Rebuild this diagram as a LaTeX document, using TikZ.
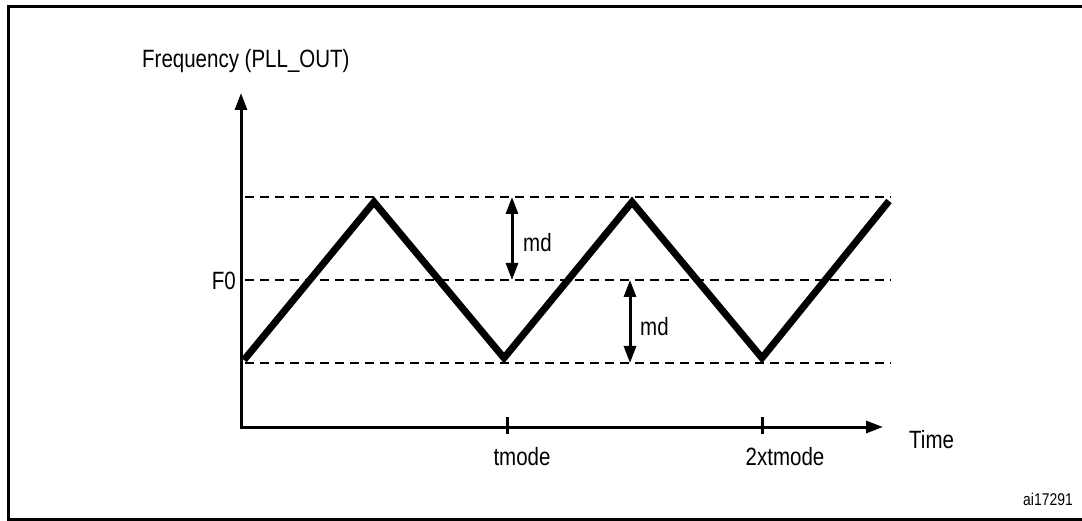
\documentclass[tikz,border=0pt]{standalone}
\usepackage{fontspec}
\setmainfont{Liberation Sans}[FakeStretch=0.82]
\usetikzlibrary{arrows.meta}
\begin{document}
\begin{tikzpicture}[x=1pt,y=-1pt,
  lbl/.style={inner sep=0pt, font=\fontsize{25}{30}\selectfont},
  small/.style={inner sep=0pt, font=\fontsize{17}{20}\selectfont},
  axis/.style={line width=3pt, line join=miter, {Triangle[length=17pt,width=12pt]}-{Triangle[length=17pt,width=12pt]}},
  guide/.style={line width=2.5pt, dash pattern=on 9pt off 6pt},
  wave/.style={line width=7pt, line join=miter},
  dim/.style={line width=3pt, {Triangle[length=17pt,width=12pt]}-{Triangle[length=17pt,width=12pt]}},
  tick/.style={line width=3pt},
  frame/.style={line width=3pt}]
\useasboundingbox (0,0) rectangle (1082,521);
% frame (right side lies outside the picture)
\coordinate (fr1) at (1090,7);
\coordinate (fr2) at (8,7);
\coordinate (fr3) at (8,519);
\coordinate (fr4) at (1090,519);
\begin{scope}
\clip (0,0) rectangle (1082,521);
\draw[frame] (fr1) -- (fr2) -- (fr3) -- (fr4);
\end{scope}
% axes
\coordinate (O) at (241,427);
\coordinate (ytip) at (241,93);
\coordinate (xtip) at (883,427);
\draw[axis] (ytip) -- (O) -- (xtip);
% guide lines
\coordinate (gtL) at (245,197); \coordinate (gtR) at (891,197);
\coordinate (gmL) at (245,280); \coordinate (gmR) at (891,280);
\coordinate (gbL) at (245,363); \coordinate (gbR) at (891,363);
\draw[guide] (gtL) -- (gtR);
\draw[guide] (gmL) -- (gmR);
\draw[guide] (gbL) -- (gbR);
% triangle wave
\coordinate (w0) at (244,360);
\coordinate (w1) at (374,202);
\coordinate (w2) at (504,358);
\coordinate (w3) at (632,202);
\coordinate (w4) at (762,358);
\coordinate (w5) at (889,201);
\draw[wave] (w0) -- (w1) -- (w2) -- (w3) -- (w4) -- (w5);
% md dimension arrows
\coordinate (d1a) at (512,197); \coordinate (d1b) at (512,280);
\coordinate (d2a) at (630,280); \coordinate (d2b) at (630,363);
\draw[dim] (d1a) -- (d1b);
\draw[dim] (d2a) -- (d2b);
% ticks
\coordinate (k1a) at (507,417); \coordinate (k1b) at (507,434);
\coordinate (k2a) at (762,417); \coordinate (k2b) at (762,434);
\draw[tick] (k1a) -- (k1b);
\draw[tick] (k2a) -- (k2b);
% labels
\node[lbl, anchor=base west] (ylab) at (142,68) {Frequency (PLL\_OUT)};
\node[lbl, anchor=east] (f0) at (236,281) {F0};
\node[lbl, anchor=base] (t1) at (522,465) {tmode};
\node[lbl, anchor=base] (t2) at (785,465) {2xtmode};
\node[lbl, anchor=base west] (time) at (909,448) {Time};
\node[lbl, anchor=base west] (md1) at (523,252) {md};
\node[lbl, anchor=base west] (md2) at (640,336) {md};
\node[small, anchor=base east] (id) at (1073,505) {ai17291};
\end{tikzpicture}
\end{document}
